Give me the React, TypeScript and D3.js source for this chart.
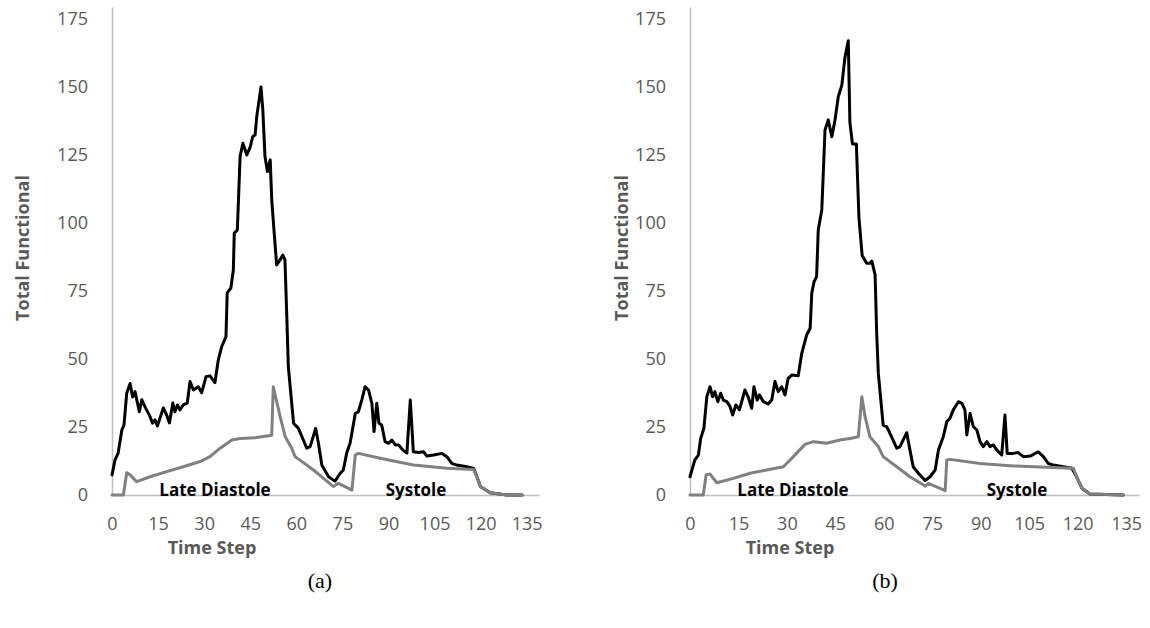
import React, { useEffect, useRef } from 'react'
import * as d3 from 'd3'

// time steps and values, panel (a)
const aBlackSteps = [0, 1, 2, 3.2, 3.9, 4.8, 5.9, 6.7, 7.5, 8.2, 8.9, 9.7, 10.7, 12.4, 13.2, 14, 14.8, 16.7, 17.8, 18.7, 19.8, 20.5, 21.3, 22.1, 23.2, 24.5, 25.4, 26.5, 28.1, 29.2, 30.6, 31.9, 33.5, 34.6, 35.7, 37.1, 37.5, 38.7, 39.5, 39.8, 40.8, 41.7, 42.6, 43.9, 45, 45.8, 46.6, 47.1, 47.9, 48.5, 49.1, 49.8, 50.6, 51.5, 52, 52.8, 53.6, 54.7, 55.6, 56.3, 56.9, 57.4, 59.1, 60.7, 63.4, 64.5, 66.3, 67.2, 68.3, 70.5, 72.6, 74.3, 75.3, 76.4, 77.5, 79.2, 80.2, 81.3, 82.4, 83.5, 84.6, 85.3, 86.2, 86.9, 87.8, 88.9, 90, 91.1, 92.2, 93.3, 94.7, 96, 97.1, 98.1, 99.8, 101.4, 102.5, 104.7, 107.4, 109, 110.6, 112.2, 115.5, 117.7, 118.8, 119.9, 123.1, 128.6, 133.5]
const aBlackValues = [7.4, 12.9, 15.4, 23.9, 25.7, 37.5, 41, 36, 38, 34.3, 30.6, 35, 32.5, 28.8, 26.4, 27.6, 25.4, 32, 29.4, 26.5, 33.8, 30.6, 33.1, 31.3, 33.1, 33.8, 41.7, 38.6, 39.8, 37.6, 43.5, 43.8, 41.3, 49.6, 54.5, 58.2, 74.3, 76.1, 82.7, 96.3, 97.4, 124.4, 129.3, 125, 128, 131.7, 132.4, 139, 145.2, 150, 141.5, 124.4, 118.9, 123.2, 108.5, 96.3, 84.6, 86.4, 88.2, 86.4, 65.6, 47.2, 26.4, 24.5, 17.2, 17.8, 24.5, 19, 11, 6.7, 5.1, 8, 9.2, 15.4, 19, 30, 30.6, 34.9, 39.8, 38.6, 33.7, 23.3, 33.7, 26.4, 25.7, 19.6, 19, 20.2, 18.4, 18.4, 16.5, 15.4, 34.9, 15.9, 15.6, 15.9, 14.3, 14.7, 15.3, 14.1, 11.6, 11, 10.4, 9.8, 6.7, 3.1, 0.8, 0, 0]
const aGraySteps = [0, 3.7, 4.8, 5.9, 8, 12.4, 17.8, 23.2, 28.7, 31.9, 35.2, 39, 41.7, 47.1, 52, 52.5, 54.7, 56.4, 58.5, 59.6, 65.6, 72.1, 73.7, 78.1, 79.2, 80.2, 87.3, 98.1, 109, 117.7, 118.8, 119.9, 123.1, 128.6, 133.5]
const aGrayValues = [0, 0, 8.2, 7.4, 4.9, 6.7, 8.6, 10.4, 12.3, 14.1, 17.2, 20.2, 20.8, 21.1, 22, 39.8, 29, 21.4, 17.2, 14.1, 9.2, 3.1, 4.3, 1.8, 14.7, 15.3, 13.5, 11, 9.8, 9.4, 6.7, 3.1, 0.8, 0, 0]

// panel (b)
const bBlackSteps = [0, 1.5, 2.6, 3.3, 4.3, 5.2, 6.2, 7, 7.7, 8.6, 9.5, 10.3, 11.4, 12.4, 13.2, 14.2, 15.3, 17, 18, 19.1, 19.8, 20.8, 21.5, 22.7, 24.2, 25.3, 26.3, 27.3, 28.4, 29.4, 30.4, 31.5, 33.5, 34.6, 36.1, 37.2, 37.7, 38.4, 39.2, 39.7, 40.8, 41.3, 41.8, 42.8, 43.9, 44.9, 45.9, 47, 48, 49, 49.5, 50.3, 51.5, 52.3, 53.3, 54.7, 55.7, 56.3, 57.3, 57.8, 58.3, 59.8, 60.9, 62.4, 64, 65, 67.1, 68.1, 69.1, 70.7, 72.8, 74.3, 75.9, 76.9, 78.4, 79.5, 80.5, 81.5, 83.1, 84.2, 85.1, 85.7, 86.7, 87.7, 88.8, 89.8, 90.8, 91.9, 92.9, 93.9, 95, 96.5, 97.5, 98.2, 100.1, 101.6, 103.2, 105.3, 107.8, 109.4, 110.9, 112.5, 115.6, 118.2, 119.7, 121.3, 123.8, 134.2]
const bBlackValues = [6.7, 12.9, 14.7, 20.8, 24.5, 36.1, 39.8, 36.1, 38, 34.3, 37.4, 34.9, 34.3, 32.5, 29.4, 33.1, 31.3, 38.6, 36.1, 31.9, 39.8, 34.9, 36.8, 34.3, 33.5, 34.9, 41.7, 38, 39.8, 36.8, 42.9, 44.1, 43.8, 52.1, 58.8, 61.3, 74.2, 78.4, 80.3, 97.4, 104.8, 119.5, 134.2, 137.9, 131.7, 137.9, 146.4, 150.7, 161.1, 167, 137, 129, 129, 102, 88, 85.2, 85.2, 86, 80.9, 59.4, 44.7, 25.7, 25.1, 21.4, 17.2, 17.8, 22.9, 16.5, 10.4, 8, 5.3, 6.7, 9.2, 16.5, 21.4, 27, 28.2, 31.3, 34.3, 33.7, 31.3, 22.1, 30, 25.1, 23.9, 19.6, 17.8, 19.6, 17.8, 18.4, 16.5, 14.7, 29.4, 15.3, 15.3, 15.6, 14.1, 14.3, 15.9, 14.1, 11.6, 11, 10.4, 9.8, 6.7, 2.5, 0.4, 0]
const bGraySteps = [0, 4.1, 5, 6.2, 8.3, 13.4, 18.6, 23.7, 28.9, 32, 35.6, 38.2, 42.3, 46.4, 49.5, 52.1, 53.2, 54.2, 55.7, 58.3, 59.8, 64, 68.1, 72.8, 73.8, 79, 79.5, 80.5, 89.8, 100.1, 110.4, 118.7, 119.7, 121.3, 123.8, 134.2]
const bGrayValues = [0, 0, 7.4, 7.7, 4.5, 6.1, 8, 9.2, 10.4, 14.1, 18.6, 19.6, 19, 20.2, 20.8, 21.4, 36.1, 28.8, 21.4, 17.8, 14.1, 10.4, 6.7, 3.3, 4.3, 1.6, 12.9, 13.1, 11.6, 10.7, 10.2, 9.8, 6.7, 2.5, 0.4, 0]

const yTicks = [0, 25, 50, 75, 100, 125, 150, 175]
const xTicks = [0, 15, 30, 45, 60, 75, 90, 105, 120, 135]

const panels = [
  { x0: 112, x1: 539, black: [aBlackSteps, aBlackValues], gray: [aGraySteps, aGrayValues], caption: '(a)', capX: 320, titleX: 23, systoleX: 416 },
  { x0: 690, x1: 1139, black: [bBlackSteps, bBlackValues], gray: [bGraySteps, bGrayValues], caption: '(b)', capX: 885, titleX: 622, systoleX: 1017 },
]

const FONT = '"Open Sans", sans-serif'

const App = () => {
  const ref = useRef(null)

  useEffect(() => {
    const svg = d3.select(ref.current)
    svg.selectAll('*').remove()

    const y = d3.scaleLinear().domain([0, 179.4]).range([495, 7])

    panels.forEach(p => {
      const x = d3.scaleLinear().domain([0, 139]).range([p.x0, p.x1])
      const g = svg.append('g')

      // y axis
      const ya = g.append('g')
        .attr('transform', `translate(${p.x0},0)`)
        .call(d3.axisLeft(y).tickValues(yTicks).tickSize(0).tickPadding(24))
      ya.select('.domain').attr('stroke', '#bfbfbf').attr('stroke-width', 1.5)
      ya.selectAll('text').attr('font-family', FONT).attr('font-size', 18).attr('fill', '#595959')

      // x axis
      const xa = g.append('g')
        .attr('transform', `translate(0,${y(0)})`)
        .call(d3.axisBottom(x).tickValues(xTicks).tickSize(0).tickPadding(22))
      xa.select('.domain').attr('stroke', '#bfbfbf').attr('stroke-width', 1.5)
      xa.selectAll('text').attr('font-family', FONT).attr('font-size', 18).attr('fill', '#595959')

      const line = d3.line<number>()
        .x(d => x(d[0]))
        .y(d => y(d[1]))

      const toPts = (s: number[][]) => s[0].map((t, i) => [t, s[1][i]])

      g.append('path')
        .attr('d', line(toPts(p.black) as any))
        .attr('fill', 'none')
        .attr('stroke', '#000')
        .attr('stroke-width', 3)
        .attr('stroke-linejoin', 'round')
        .attr('stroke-linecap', 'round')

      g.append('path')
        .attr('d', line(toPts(p.gray) as any))
        .attr('fill', 'none')
        .attr('stroke', '#808080')
        .attr('stroke-width', 3)
        .attr('stroke-linejoin', 'round')
        .attr('stroke-linecap', 'round')

      // phase labels
      g.append('text')
        .attr('x', p.x0 + 103).attr('y', 496)
        .attr('text-anchor', 'middle')
        .attr('font-family', FONT).attr('font-weight', 'bold').attr('font-size', 17)
        .text('Late Diastole')
      g.append('text')
        .attr('x', p.systoleX).attr('y', 496)
        .attr('text-anchor', 'middle')
        .attr('font-family', FONT).attr('font-weight', 'bold').attr('font-size', 17)
        .text('Systole')

      // axis titles
      g.append('text')
        .attr('transform', `translate(${p.titleX + 6},248) rotate(-90)`)
        .attr('text-anchor', 'middle')
        .attr('font-family', FONT).attr('font-weight', 'bold').attr('font-size', 18)
        .attr('fill', '#595959')
        .text('Total Functional')
      g.append('text')
        .attr('x', p.x0 + 100).attr('y', 554)
        .attr('text-anchor', 'middle')
        .attr('font-family', FONT).attr('font-weight', 'bold').attr('font-size', 18)
        .attr('fill', '#595959')
        .text('Time Step')

      // caption
      g.append('text')
        .attr('x', p.capX).attr('y', 588)
        .attr('text-anchor', 'middle')
        .attr('font-family', '"Liberation Serif", serif').attr('font-size', 22)
        .text(p.caption)
    })
  }, [])

  return (
    <svg ref={ref} width={1150} height={628}
      style={{ position: 'absolute', left: 0, top: 0, background: '#fff' }} />
  )
}

export default App
